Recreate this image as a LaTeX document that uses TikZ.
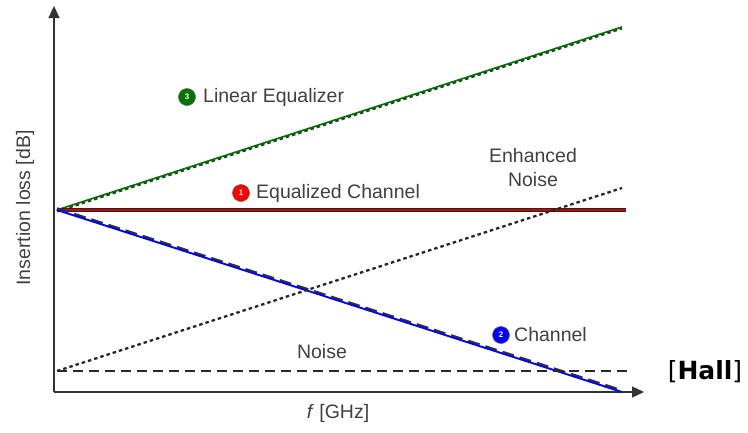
\documentclass[tikz,border=0pt]{standalone}
\usepackage{fontspec}
\setmainfont{Liberation Sans}
\newfontfamily\dejavu{DejaVu Sans}
\usetikzlibrary{arrows.meta}
\begin{document}
\begin{tikzpicture}[x=1pt,y=-1pt,
  lbl/.style={text=black!75,font=\fontsize{19.5}{22}\selectfont,inner sep=0pt},
  num/.style={circle,draw=black!60,line width=0.6pt,fill=#1,text=white,font=\bfseries\fontsize{8}{8}\selectfont,inner sep=0pt,minimum size=17pt},
  axis/.style={black!80,line width=1.2pt,-{Triangle[length=12pt,width=11pt]}}]
\useasboundingbox (0,0) rectangle (748,432);
\coordinate (O) at (54,392);
\coordinate (Y) at (54,6);
\coordinate (X) at (644,392);
\draw[axis] (O) -- (Y);
\draw[axis] (O) -- (X);
\coordinate (S) at (57,210);
\coordinate (G) at (622,27);
\coordinate (R) at (626,210);
\coordinate (B) at (622,392);
\coordinate (N0) at (57,371);
\coordinate (N1) at (632,371);
\coordinate (E1) at (622,188);
\draw[black!80,line width=2.2pt,dash pattern=on 3.5pt off 3pt] ([yshift=-1.4pt]S) -- ([yshift=-1.4pt]G);
\draw[green!45!black,line width=1.7pt] (S) -- (G);
\draw[black!85,line width=4pt] (S) -- (R);
\draw[red!80!black,line width=1.8pt] (S) -- (R);
\draw[black!80,line width=2.4pt,dash pattern=on 12pt off 6pt] ([yshift=1.6pt]S) -- ([yshift=1.6pt]B);
\draw[blue,line width=1.9pt] (S) -- (B);
\draw[black!85,line width=2.3pt,dash pattern=on 10pt off 6pt] (N0) -- (N1);
\draw[black!85,line width=2.3pt,dash pattern=on 3.5pt off 3pt] (N0) -- (E1);
\node[num=green!45!black] (c3) at (187,97) {3};
\node[lbl,anchor=west] (t3) at (203,97) {Linear Equalizer};
\node[num=red] (c1) at (241,193) {1};
\node[lbl,anchor=west] (t1) at (256,193) {Equalized Channel};
\node[num=blue] (c2) at (501,335) {2};
\node[lbl,anchor=west] (t2) at (514,335) {Channel};
\node[lbl,align=center] (en) at (533,168) {Enhanced\\[2pt]Noise};
\node[lbl] (nz) at (322,352) {Noise};
\node[lbl,rotate=90] (yl) at (25,208) {Insertion loss [dB]};
\node[lbl] (xl) at (338,413) {\textit{f} [GHz]};
\node[inner sep=0pt,font=\dejavu\fontsize{25}{28}\selectfont] (hall) at (705,372) {[\textbf{Hall}]};
\end{tikzpicture}
\end{document}
